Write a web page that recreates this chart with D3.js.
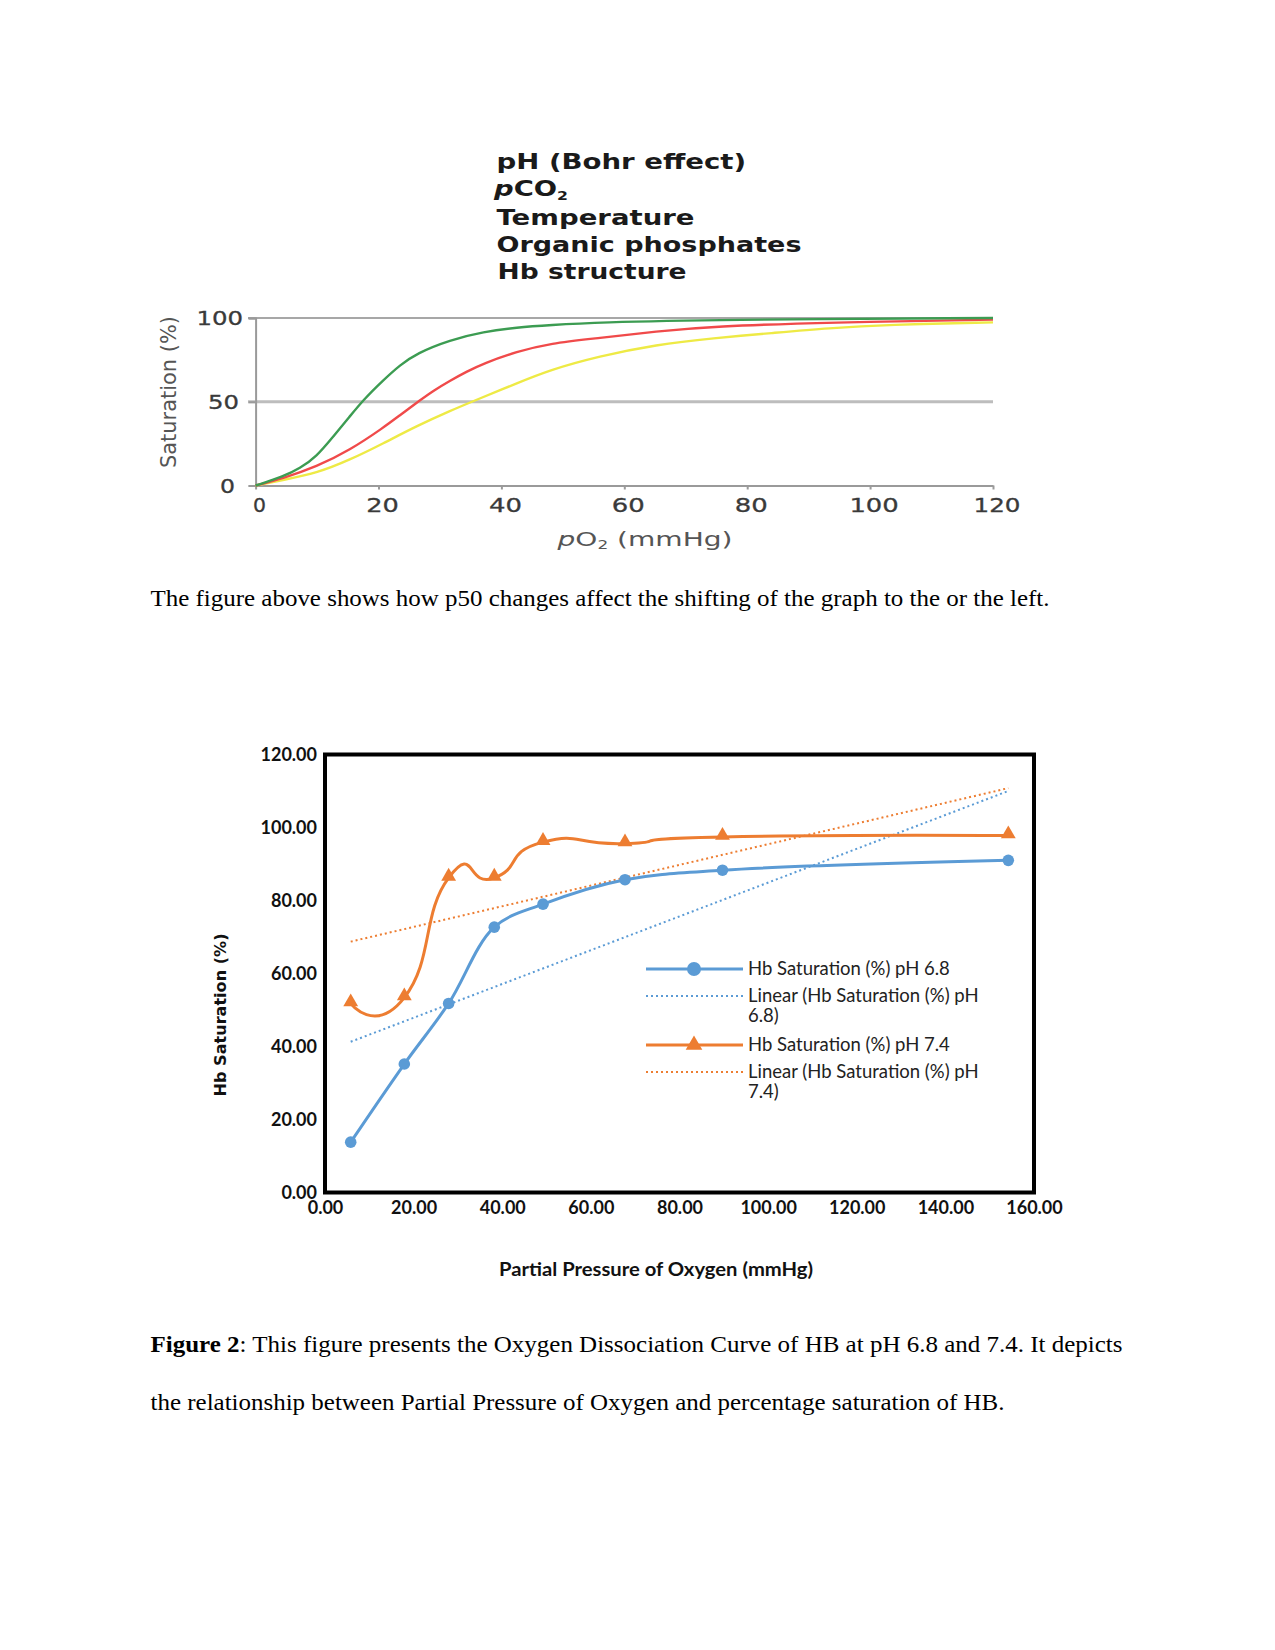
<!DOCTYPE html>
<html><head><meta charset="utf-8">
<script src="https://cdn.jsdelivr.net/npm/d3@7"></script>
<style>body{margin:0;background:#fff}</style>
</head><body>
<svg id="page" width="1275" height="1650" xmlns="http://www.w3.org/2000/svg"></svg>
<script>
// ---------- Top figure data (pO2 mmHg, saturation %) ----------
const topXTicks = [0, 20, 40, 60, 80, 100, 120];
const topYTicks = [0, 50, 100];
const greenCurve = [[0,0],[4.5,5.3],[7.2,10.2],[9.9,17.2],[12.6,29.1],[15.3,41.1],[17.5,51],[20.8,63],[23.5,71.9],[26.2,78.9],[31.6,86.9],[37.1,91.8],[42.5,94.4],[47.9,95.8],[55.8,97.4],[74.5,99],[120,100]];
const redCurve = [[0,0],[4.5,4.3],[9.9,11.2],[15.3,21],[20.8,34.5],[23.5,42],[26.8,51],[28.9,56.5],[31.6,62.5],[34.3,67.9],[37.1,72.9],[42.5,79.9],[47.9,84.9],[55.8,88],[65.2,92],[74.5,95],[93.3,97.4],[120,99]];
const yellowCurve = [[0,0],[4.5,3.3],[9.9,7.3],[15.3,15.2],[20.8,25.2],[26.2,35.5],[31.6,44.5],[35.9,51.1],[42.5,61],[47.9,69],[55.8,77.1],[65.2,84.1],[74.5,88],[84,91],[93.3,94],[102.8,96],[120,97.4]];
const factorLines = ["pH (Bohr effect)", "pCO2", "Temperature", "Organic phosphates", "Hb structure"];

// ---------- Bottom figure data ----------
const pO2 = [5.8, 17.9, 27.9, 38.2, 49.2, 67.7, 89.7, 154.2];
const satPH68 = [13.8, 35.2, 51.8, 72.7, 79.0, 85.7, 88.3, 91.0];
const satPH74 = [51.8, 53.4, 86.2, 86.2, 96.0, 95.6, 97.4, 97.8];
const xTickValues = [0, 20, 40, 60, 80, 100, 120, 140, 160];
const yTickValues = [0, 20, 40, 60, 80, 100, 120];
const seriesNames = ["Hb Saturation (%) pH 6.8", "Hb Saturation (%) pH 7.4"];

const svg = d3.select("#page");
svg.append("rect").attr("width",1275).attr("height",1650).attr("fill","#fff");

// ================= TOP FIGURE =================
const tx = d3.scaleLinear().domain([0,120]).range([255.6, 993]);
const ty = d3.scaleLinear().domain([0,100]).range([485.5, 318]);
const topG = svg.append("g");
const topFont = "'DejaVu Sans', Verdana, sans-serif";

// gridlines
topG.append("line").attr("x1",248).attr("x2",tx(120)).attr("y1",ty(100)).attr("y2",ty(100))
  .attr("stroke","#8a8a8a").attr("stroke-width",1.6);
topG.append("line").attr("x1",248).attr("x2",tx(120)).attr("y1",ty(50)).attr("y2",ty(50))
  .attr("stroke","#bdbdbd").attr("stroke-width",3);
// axes
const tyAxis = topG.append("g").attr("transform",`translate(${tx(0)},0)`)
  .call(d3.axisLeft(ty).tickValues(topYTicks).tickSize(7).tickFormat(""));
tyAxis.selectAll("path,line").attr("stroke","#9a9a9a").attr("stroke-width",2);
const txAxis = topG.append("g").attr("transform",`translate(0,${ty(0)})`)
  .call(d3.axisBottom(tx).tickValues(topXTicks).tickSize(4).tickSizeOuter(0).tickFormat(""));
txAxis.selectAll("path,line").attr("stroke","#9a9a9a").attr("stroke-width",2);

// tick labels
const xLabLen = {0:13,20:32.6,40:33,60:33,80:33,100:49.4,120:47};
topXTicks.forEach(v=>{
  topG.append("text").attr("x",tx(v)+4).attr("y",512).attr("text-anchor","middle")
    .attr("font-family",topFont).attr("font-size",20).attr("fill","#3a3a3a")
    .attr("stroke","#3a3a3a").attr("stroke-width",0.3)
    .attr("textLength",xLabLen[v]).attr("lengthAdjust","spacingAndGlyphs").text(v);
});
const yLabLen = {0:15,50:31,100:46.6};
const yLabEnd = {0:235,50:239,100:243};
topYTicks.forEach(v=>{
  topG.append("text").attr("x",yLabEnd[v]).attr("y",ty(v)+7).attr("text-anchor","end")
    .attr("font-family",topFont).attr("font-size",20).attr("fill","#3a3a3a")
    .attr("stroke","#3a3a3a").attr("stroke-width",0.3)
    .attr("textLength",yLabLen[v]).attr("lengthAdjust","spacingAndGlyphs").text(v);
});
// axis titles
topG.append("text").attr("transform","translate(176,392) rotate(-90)").attr("text-anchor","middle")
  .attr("font-family",topFont).attr("font-size",22).attr("fill","#555")
  .attr("textLength",152).attr("lengthAdjust","spacingAndGlyphs").text("Saturation (%)");
const pxt = topG.append("text").attr("x",557.5).attr("y",546)
  .attr("font-family",topFont).attr("font-size",20).attr("fill","#555")
  .attr("textLength",175).attr("lengthAdjust","spacingAndGlyphs");
pxt.append("tspan").attr("font-style","italic").text("p");
pxt.append("tspan").text("O");
pxt.append("tspan").attr("font-size",12).attr("dy",3).text("2");
pxt.append("tspan").attr("dy",-3).text(" (mmHg)");

// curves (B-spline through the read-off points for a smooth trace)
const topLine = d3.line().x(d=>tx(d[0])).y(d=>ty(d[1])).curve(d3.curveBasis);
[[yellowCurve,"#eeea45"],[redCurve,"#f04a4a"],[greenCurve,"#3c9c52"]].forEach(([c,col])=>{
  topG.append("path").attr("d",topLine(c)).attr("fill","none").attr("stroke",col).attr("stroke-width",2.4);
});

// factor list
const lineYs = [161, 188, 217, 244, 271];
const lineLens = [249.5, 74, 198, 305, 189];
const lineXs = [496.5, 494, 496.5, 496.5, 497.6];
factorLines.forEach((s,i)=>{
  const t = topG.append("text").attr("x",lineXs[i]).attr("y",lineYs[i]+7.5)
    .attr("font-family",topFont).attr("font-weight","bold").attr("font-size",21).attr("fill","#1a1a1a")
    .attr("textLength",lineLens[i]).attr("lengthAdjust","spacingAndGlyphs");
  if (s === "pCO2") {
    t.append("tspan").attr("font-style","italic").text("p");
    t.append("tspan").text("CO");
    t.append("tspan").attr("font-size",12).attr("dy",4).text("2");
  } else t.text(s);
});

// paragraph
const serif = "'Liberation Serif', 'Times New Roman', serif";
svg.append("text").attr("x",150.5).attr("y",606).attr("font-family",serif).attr("font-size",24)
  .attr("fill","#000").attr("textLength",899).attr("lengthAdjust","spacingAndGlyphs")
  .text("The figure above shows how p50 changes affect the shifting of the graph to the or the left.");

// ================= BOTTOM FIGURE =================
const x = d3.scaleLinear().domain([0,160]).range([325, 1034]);
const y = d3.scaleLinear().domain([0,120]).range([1192.5, 754.5]);
const g = svg.append("g");
const cal = "Lato, 'Open Sans', sans-serif";
const blue = "#5b9bd5", orange = "#ed7d31";

// trendlines (least squares fit of each series)
function fit(xs, ys){
  const n=xs.length, mx=d3.mean(xs), my=d3.mean(ys);
  let sxy=0,sxx=0; for(let i=0;i<n;i++){sxy+=(xs[i]-mx)*(ys[i]-my);sxx+=(xs[i]-mx)**2;}
  const b=sxy/sxx, a=my-b*mx; return v=>a+b*v;
}
const xMin = d3.min(pO2), xMax = d3.max(pO2);
[[satPH68,blue],[satPH74,orange]].forEach(([ys,col])=>{
  const f = fit(pO2, ys);
  g.append("line").attr("x1",x(xMin)).attr("y1",y(f(xMin))).attr("x2",x(xMax)).attr("y2",y(f(xMax)))
    .attr("stroke",col).attr("stroke-width",2).attr("stroke-dasharray","2,3");
});

// series lines
const smooth74 = d3.line().x(d=>x(d[0])).y(d=>y(d[1])).curve(d3.curveCardinal.tension(-0.8));
const smooth68 = d3.line().x(d=>x(d[0])).y(d=>y(d[1])).curve(d3.curveCatmullRom.alpha(0.5));
const d68 = pO2.map((v,i)=>[v,satPH68[i]]);
const d74 = pO2.map((v,i)=>[v,satPH74[i]]);
g.append("path").attr("d",smooth74(d74)).attr("fill","none").attr("stroke",orange).attr("stroke-width",3);
g.append("path").attr("d",smooth68(d68)).attr("fill","none").attr("stroke",blue).attr("stroke-width",3);
const tri = d3.symbol().type(d3.symbolTriangle).size(95);
g.selectAll(".tri").data(d74).join("path").attr("d",tri)
  .attr("transform",d=>`translate(${x(d[0])},${y(d[1])-1.5})`).attr("fill",orange);
g.selectAll(".dot").data(d68).join("circle").attr("cx",d=>x(d[0])).attr("cy",d=>y(d[1])).attr("r",5.8)
  .attr("fill",blue);

// frame
g.append("rect").attr("x",325).attr("y",754.5).attr("width",709).attr("height",438)
  .attr("fill","none").attr("stroke","#000").attr("stroke-width",4);

// axes
const yAx = g.append("g").attr("transform","translate(325,0)")
  .call(d3.axisLeft(y).tickValues(yTickValues).tickSize(0).tickPadding(8).tickFormat(d3.format(".2f")));
yAx.select(".domain").remove();
yAx.selectAll("text").attr("font-family",cal).attr("font-weight","bold").attr("font-size",18).attr("fill","#111");
const xAx = g.append("g").attr("transform","translate(0,1192.5)")
  .call(d3.axisBottom(x).tickValues(xTickValues).tickSize(0).tickPadding(9).tickFormat(d3.format(".2f")));
xAx.select(".domain").remove();
xAx.selectAll("text").attr("font-family",cal).attr("font-weight","bold").attr("font-size",18).attr("fill","#111");

// axis titles
g.append("text").attr("transform","translate(226,1015) rotate(-90)").attr("text-anchor","middle")
  .attr("font-family","'DejaVu Sans', Verdana, sans-serif").attr("font-weight","bold").attr("font-size",16)
  .attr("fill","#111").attr("textLength",163).attr("lengthAdjust","spacingAndGlyphs").text("Hb Saturation (%)");
g.append("text").attr("x",656).attr("y",1276).attr("text-anchor","middle")
  .attr("font-family",cal).attr("font-weight","bold").attr("font-size",18).attr("fill","#111")
  .attr("textLength",314).attr("lengthAdjust","spacingAndGlyphs").text("Partial Pressure of Oxygen (mmHg)");

// legend
const lg = g.append("g");
const legItems = [
  {y:969, col:blue, dash:null, mark:"circle", lines:[seriesNames[0]]},
  {y:996, col:blue, dash:"2,3", mark:null, lines:["Linear (" + seriesNames[0].replace(" 6.8","") , "6.8)"]},
  {y:1045, col:orange, dash:null, mark:"tri", lines:[seriesNames[1]]},
  {y:1072, col:orange, dash:"2,3", mark:null, lines:["Linear (" + seriesNames[1].replace(" 7.4",""), "7.4)"]}
];
legItems.forEach(it=>{
  lg.append("line").attr("x1",646).attr("x2",743).attr("y1",it.y).attr("y2",it.y)
    .attr("stroke",it.col).attr("stroke-width",it.dash?2:3).attr("stroke-dasharray",it.dash);
  if (it.mark==="circle") lg.append("circle").attr("cx",694).attr("cy",it.y).attr("r",7).attr("fill",it.col);
  if (it.mark==="tri") lg.append("path").attr("d",d3.symbol().type(d3.symbolTriangle).size(120)()).attr("transform",`translate(694,${it.y})`).attr("fill",it.col);
  it.lines.forEach((s,j)=>{
    lg.append("text").attr("x",748).attr("y",it.y+6+j*20).attr("font-family",cal).attr("font-size",18.5)
      .attr("fill","#222").text(s);
  });
});

// caption
const cap1 = svg.append("text").attr("x",150.5).attr("y",1352).attr("font-family",serif).attr("font-size",24)
  .attr("fill","#000").attr("textLength",972).attr("lengthAdjust","spacingAndGlyphs");
cap1.append("tspan").attr("font-weight","bold").text("Figure 2");
cap1.append("tspan").text(": This figure presents the Oxygen Dissociation Curve of HB at pH 6.8 and 7.4. It depicts");
svg.append("text").attr("x",150.5).attr("y",1410).attr("font-family",serif).attr("font-size",24)
  .attr("fill","#000").attr("textLength",854).attr("lengthAdjust","spacingAndGlyphs")
  .text("the relationship between Partial Pressure of Oxygen and percentage saturation of HB.");
</script>
</body></html>
